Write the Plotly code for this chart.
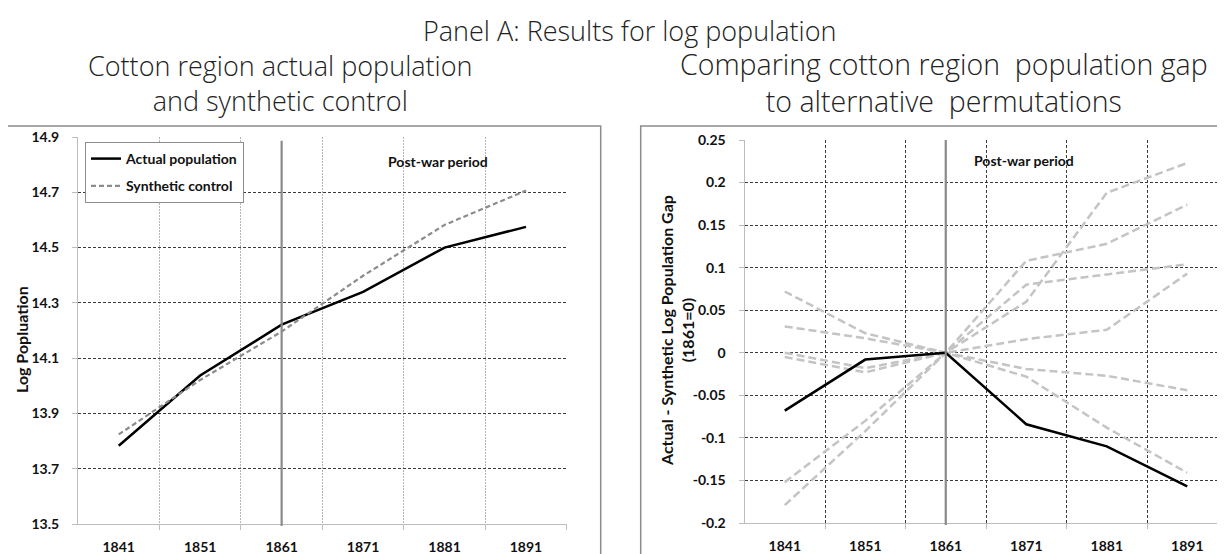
import plotly.graph_objects as go

# ---------------- data ----------------
years = [1841, 1851, 1861, 1871, 1881, 1891]
year_labels = [str(y) for y in years]
war_year = 1861

actual_pop = [13.783, 14.037, 14.221, 14.340, 14.500, 14.575]
synthetic_pop = [13.824, 14.021, 14.196, 14.398, 14.582, 14.706]

gap_cotton = [-0.068, -0.008, 0.0, -0.084, -0.110, -0.157]
placebo_1 = [0.072, 0.023, 0.0, 0.060, 0.188, 0.223]
placebo_2 = [0.031, 0.017, 0.0, 0.108, 0.128, 0.174]
placebo_3 = [0.000, -0.018, 0.0, 0.080, 0.092, 0.104]
placebo_4 = [-0.005, -0.023, 0.0, 0.016, 0.027, 0.093]
placebo_5 = [-0.152, -0.080, 0.0, -0.019, -0.027, -0.044]
placebo_6 = [-0.179, -0.092, 0.0, -0.028, -0.088, -0.141]
placebos = [placebo_1, placebo_2, placebo_3, placebo_4, placebo_5, placebo_6]

left_yticks = [13.5, 13.7, 13.9, 14.1, 14.3, 14.5, 14.7, 14.9]
right_yticks = [0.25, 0.2, 0.15, 0.1, 0.05, 0, -0.05, -0.1, -0.15, -0.2]
right_yticklabels = ["0.25", "0.2", "0.15", "0.1", "0.05", "0", "-0.05", "-0.1", "-0.15", "-0.2"]

# ---------------- figure ----------------
W, H = 1225, 554
OFF = 8  # page body margin in the browser
TICKFONT = dict(family="Lato", size=14, color="#111", weight="bold")
TITLEFONT = dict(family="Open Sans", size=27, color="#222", weight=300)
TITLEFONT_R = dict(family="Open Sans", size=28.5, color="#222", weight=300)
BOLD = dict(family="Lato", size=14, color="#111", weight="bold")
AXTITLE = dict(family="Lato", size=16, color="#111", weight="bold")

fig = go.Figure()

# left panel
fig.add_trace(go.Scatter(x=years, y=actual_pop, mode="lines", name="Actual population",
                         line=dict(color="#000", width=2.5), xaxis="x", yaxis="y",
                         legendgroup="a"))
fig.add_trace(go.Scatter(x=years, y=synthetic_pop, mode="lines", name="Synthetic control",
                         line=dict(color="#8c8c8c", width=2.2, dash="5px,3px"), xaxis="x", yaxis="y",
                         legendgroup="b"))

# right panel
for p in placebos:
    fig.add_trace(go.Scatter(x=years, y=p, mode="lines", showlegend=False,
                             line=dict(color="#c4c4c4", width=2.5, dash="8px,4px"),
                             xaxis="x2", yaxis="y2"))
fig.add_trace(go.Scatter(x=years, y=gap_cotton, mode="lines", showlegend=False,
                         line=dict(color="#000", width=2.5), xaxis="x2", yaxis="y2"))

def px_x(v):
    return (v - OFF) / W

def px_y(v):
    return 1 - (v - OFF) / H

boundaries = [y + 5 for y in years]

xcommon = dict(
    tickmode="array", tickvals=years, ticktext=year_labels, showgrid=False,
    ticks="", tickfont=TICKFONT, ticklabelstandoff=10, zeroline=False,
    showline=True, linecolor="#bdbdbd", linewidth=1, automargin=False,
)
ycommon = dict(
    showgrid=True, gridcolor="#3a3a3a", griddash="3px,2px", gridwidth=1,
    showline=True, linecolor="#bdbdbd", ticks="outside", ticklen=5, tickcolor="#bdbdbd",
    tickfont=TICKFONT, ticklabelstandoff=10, zeroline=False, automargin=False,
)

fig.update_layout(
    width=W, height=H, margin=dict(l=0, r=0, t=0, b=0, pad=0, autoexpand=False),
    paper_bgcolor="white", plot_bgcolor="white",
    xaxis=dict(
        domain=[px_x(78), px_x(566.7)], range=[1836, 1896], anchor="y",
        minor=dict(tickmode="array", tickvals=boundaries, showgrid=True, gridcolor="#b5b5b5",
                   griddash="2px,1px", gridwidth=1, ticks="outside", ticklen=5, tickcolor="#bdbdbd"),
        **xcommon,
    ),
    yaxis=dict(
        domain=[px_y(524), px_y(137)], range=[13.5, 14.9], anchor="x",
        tickmode="array", tickvals=left_yticks, tickformat=".1f",
        **ycommon,
    ),
    xaxis2=dict(
        domain=[px_x(744.5), px_x(1227.5)], range=[1836, 1896], anchor="y2",
        minor=dict(tickmode="array", tickvals=boundaries, showgrid=True, gridcolor="#3a3a3a",
                   griddash="3px,2px", gridwidth=1, ticks="outside", ticklen=5, tickcolor="#bdbdbd"),
        **xcommon,
    ),
    yaxis2=dict(
        domain=[px_y(523), px_y(140)], range=[-0.2, 0.25], anchor="x2",
        tickmode="array", tickvals=right_yticks, ticktext=right_yticklabels,
        **ycommon,
    ),
    legend=dict(
        x=px_x(85), y=px_y(142), xanchor="left", yanchor="top",
        bgcolor="white", bordercolor="#8c8c8c", borderwidth=1,
        font=BOLD, tracegroupgap=6, itemwidth=30,
    ),
    showlegend=True,
)

# vertical line at war year
fig.add_shape(type="line", xref="x", yref="y domain", x0=war_year, x1=war_year, y0=-0.005, y1=0.99,
              line=dict(color="#8a8a8a", width=2.2), layer="above")
fig.add_shape(type="line", xref="x2", yref="y2 domain", x0=war_year, x1=war_year, y0=-0.005, y1=1.0,
              line=dict(color="#8a8a8a", width=2.2), layer="above")

# chart borders
fig.add_shape(type="rect", xref="paper", yref="paper", x0=px_x(4), x1=px_x(600.7),
              y0=-0.05, y1=px_y(126), line=dict(color="#8c8c8c", width=1.5))
fig.add_shape(type="rect", xref="paper", yref="paper", x0=px_x(640.7), x1=1.05,
              y0=-0.05, y1=px_y(126), line=dict(color="#8c8c8c", width=1.5))

def note(text, x, y, font, angle=0):
    return dict(text=text, x=px_x(x), y=px_y(y), xref="paper", yref="paper",
                xanchor="center", yanchor="middle", showarrow=False, font=font,
                textangle=angle)

ann = [
    note("Panel A: Results for log population", 629, 30, TITLEFONT),
    note("Cotton region actual population<br>and synthetic control", 280, 83, TITLEFONT),
    note("Comparing cotton region&nbsp;&nbsp;population gap<br>to alternative&nbsp;&nbsp;permutations",
         944, 82, TITLEFONT_R),
    note("Post-war period", 438, 162, BOLD),
    note("Post-war period", 1024, 160, BOLD),
    note("Log Popluation", 21, 340, AXTITLE, -90),
    note("Actual - Synthetic Log Population Gap<br>(1861=0)", 677, 331, AXTITLE, -90),
]
fig.update_layout(annotations=ann)

fig.write_html("out.html")
